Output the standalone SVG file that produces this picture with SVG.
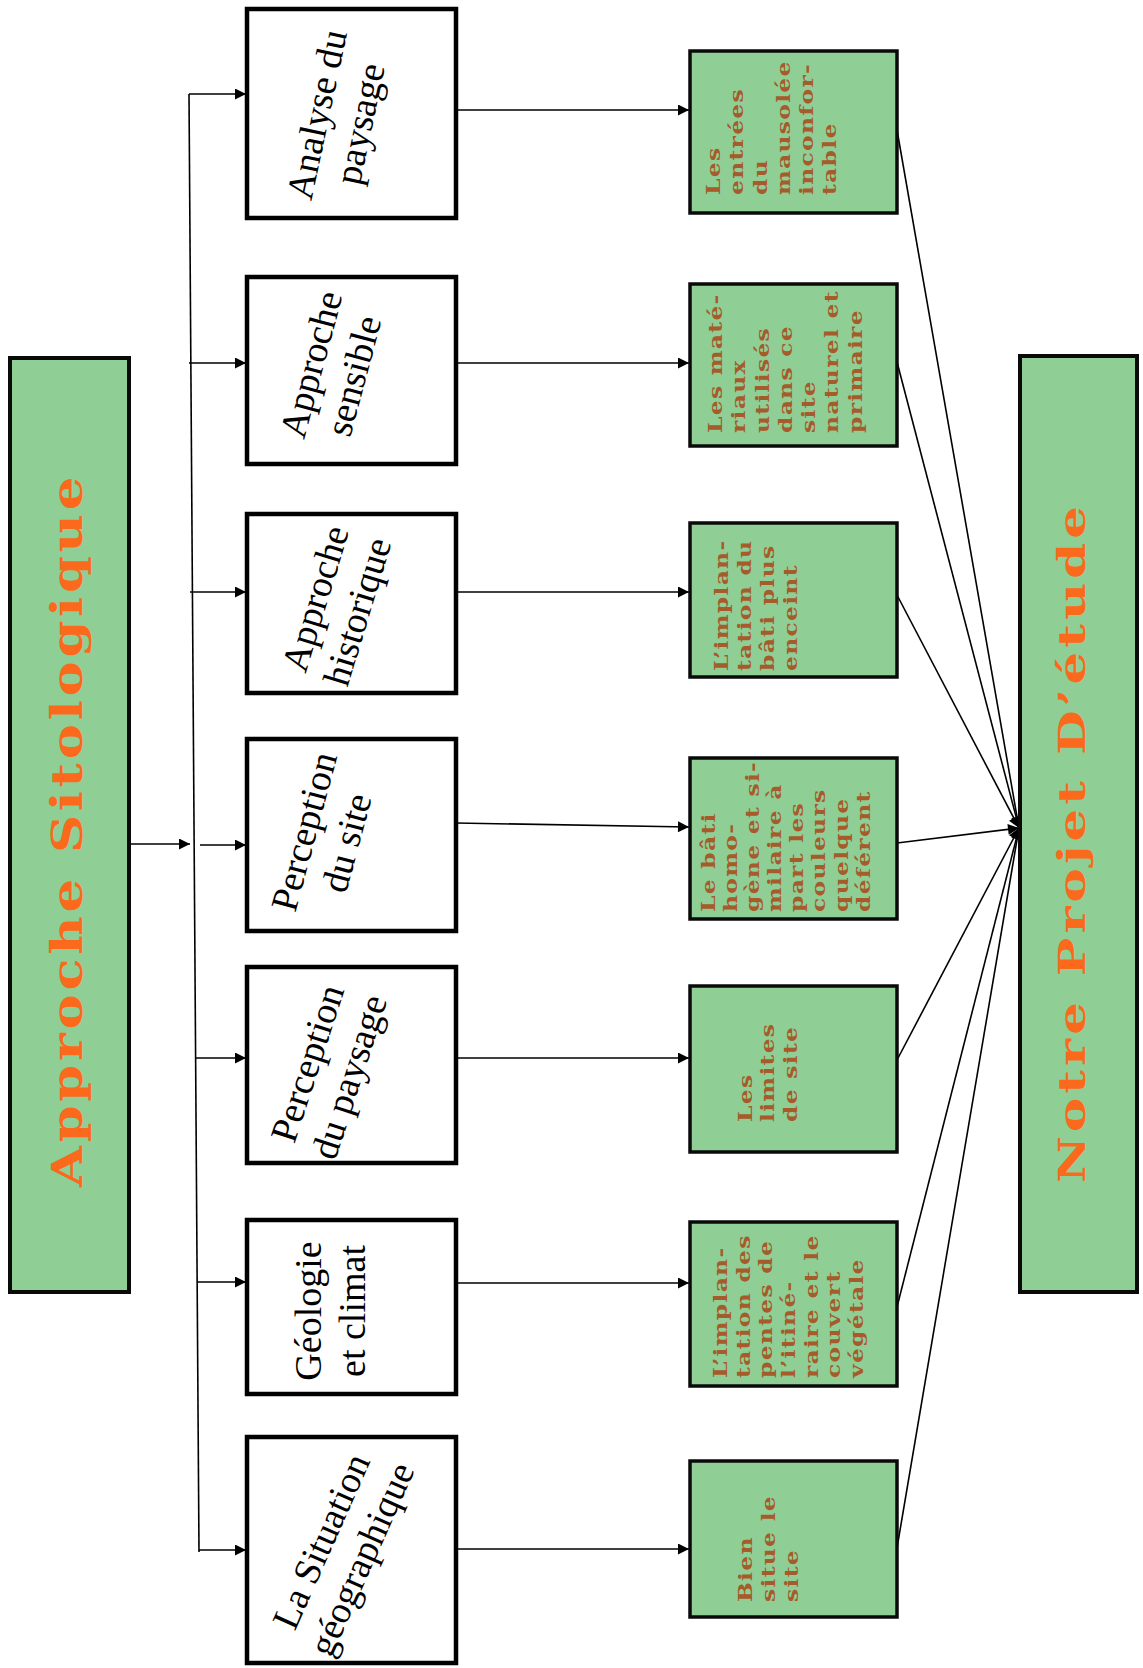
<svg xmlns="http://www.w3.org/2000/svg" width="1143" height="1668" viewBox="0 0 1143 1668">
<style>
.green{fill:#8fcf96;stroke:#0a0a0a;stroke-width:4}
.white{fill:#fff;stroke:#000;stroke-width:4.5}
.mid{fill:#8fcf96;stroke:#0a0a0a;stroke-width:3.5}
.title{font-family:"DejaVu Serif",serif;font-weight:bold;fill:#fb6a1c;letter-spacing:3px}
.lbl{font-family:"Liberation Serif",serif;font-size:38px;fill:#000}
.gt{font-family:"DejaVu Serif",serif;font-weight:bold;font-size:18px;letter-spacing:1px;fill:#a65b2b}
.c{stroke:#000;stroke-width:1.6;fill:none}
</style>
<defs>
<marker id="ah" viewBox="0 0 10 10" refX="10" refY="5" markerWidth="14" markerHeight="11" markerUnits="userSpaceOnUse" orient="auto"><path d="M0,0 L10,5 L0,10 z" fill="#000"/></marker>
</defs>
<rect width="1143" height="1668" fill="#fff"/>

<g id="connectors">
<line class="c" x1="189" y1="94" x2="199" y2="1552"/>
<line class="c" x1="129" y1="844" x2="190" y2="844" marker-end="url(#ah)"/>
<line class="c" x1="189" y1="94" x2="246" y2="94" marker-end="url(#ah)"/>
<line class="c" x1="189" y1="363" x2="246" y2="363" marker-end="url(#ah)"/>
<line class="c" x1="190" y1="592" x2="246" y2="592" marker-end="url(#ah)"/>
<line class="c" x1="200" y1="845" x2="246" y2="845" marker-end="url(#ah)"/>
<line class="c" x1="196" y1="1058" x2="246" y2="1058" marker-end="url(#ah)"/>
<line class="c" x1="197" y1="1282" x2="246" y2="1282" marker-end="url(#ah)"/>
<line class="c" x1="199" y1="1550" x2="246" y2="1550" marker-end="url(#ah)"/>
<line class="c" x1="456" y1="110" x2="689" y2="110" marker-end="url(#ah)"/>
<line class="c" x1="456" y1="363" x2="689" y2="363" marker-end="url(#ah)"/>
<line class="c" x1="456" y1="592" x2="689" y2="592" marker-end="url(#ah)"/>
<line class="c" x1="456" y1="823" x2="689" y2="827" marker-end="url(#ah)"/>
<line class="c" x1="456" y1="1058" x2="689" y2="1058" marker-end="url(#ah)"/>
<line class="c" x1="456" y1="1283" x2="689" y2="1283" marker-end="url(#ah)"/>
<line class="c" x1="456" y1="1549" x2="689" y2="1549" marker-end="url(#ah)"/>
<line class="c" x1="897" y1="130" x2="1019" y2="828" marker-end="url(#ah)"/>
<line class="c" x1="897" y1="362" x2="1019" y2="828" marker-end="url(#ah)"/>
<line class="c" x1="897" y1="595" x2="1019" y2="828" marker-end="url(#ah)"/>
<line class="c" x1="897" y1="843" x2="1019" y2="828" marker-end="url(#ah)"/>
<line class="c" x1="897" y1="1060" x2="1019" y2="828" marker-end="url(#ah)"/>
<line class="c" x1="897" y1="1307" x2="1019" y2="828" marker-end="url(#ah)"/>
<line class="c" x1="897" y1="1548" x2="1019" y2="828" marker-end="url(#ah)"/>
</g>

<g id="approche-sitologique">
<rect class="green" x="10" y="358" width="119" height="934"/>
<text class="title" font-size="42" transform="translate(82,1187) rotate(-90)" textLength="714" lengthAdjust="spacingAndGlyphs">Approche Sitologique</text>
</g>

<g id="notre-projet">
<rect class="green" x="1020" y="356" width="117" height="936"/>
<text class="title" font-size="38" transform="translate(1085,1183) rotate(-90)" textLength="681" lengthAdjust="spacingAndGlyphs">Notre Projet D’étude</text>
</g>

<g id="b1">
<rect class="white" x="247" y="9" width="209" height="209"/>
<text class="lbl" text-anchor="middle" transform="translate(338,119) rotate(-78)"><tspan x="0" y="-9">Analyse du</tspan><tspan x="0" y="35">paysage</tspan></text>
</g>
<g id="b2">
<rect class="white" x="247" y="277" width="209" height="187"/>
<text class="lbl" text-anchor="middle" transform="translate(332,370) rotate(-75)"><tspan x="0" y="-9">Approche</tspan><tspan x="0" y="35">sensible</tspan></text>
</g>
<g id="b3">
<rect class="white" x="247" y="514" width="209" height="179"/>
<text class="lbl" text-anchor="middle" transform="translate(336,605) rotate(-73)"><tspan x="0" y="-9">Approche</tspan><tspan x="0" y="35">historique</tspan></text>
</g>
<g id="b4">
<rect class="white" x="247" y="739" width="209" height="192"/>
<text class="lbl" text-anchor="middle" transform="translate(325,837) rotate(-75)"><tspan x="0" y="-9">Perception</tspan><tspan x="0" y="35">du site</tspan></text>
</g>
<g id="b5">
<rect class="white" x="247" y="967" width="209" height="196"/>
<text class="lbl" text-anchor="middle" transform="translate(328,1070) rotate(-72)"><tspan x="0" y="-9">Perception</tspan><tspan x="0" y="35">du paysage</tspan></text>
</g>
<g id="b6">
<rect class="white" x="247" y="1220" width="209" height="174"/>
<text class="lbl" text-anchor="middle" transform="translate(330,1311) rotate(-90)"><tspan x="0" y="-9">Géologie</tspan><tspan x="0" y="35">et climat</tspan></text>
</g>
<g id="b7">
<rect class="white" x="247" y="1437" width="209" height="226"/>
<text class="lbl" text-anchor="middle" transform="translate(341,1550) rotate(-66)"><tspan x="0" y="-9">La Situation</tspan><tspan x="0" y="35">géographique</tspan></text>
</g>

<g id="g1">
<rect class="mid" x="690" y="51" width="207" height="162"/>
<text class="gt" transform="translate(720,195) rotate(-90) scale(1.3,1)"><tspan x="0" y="0">Les</tspan><tspan x="0" y="23.3">entrées</tspan><tspan x="0" y="46.6">du</tspan><tspan x="0" y="69.9">mausolée</tspan><tspan x="0" y="93.2">inconfor-</tspan><tspan x="0" y="116.5">table</tspan></text>
</g>
<g id="g2">
<rect class="mid" x="690" y="284" width="207" height="162"/>
<text class="gt" transform="translate(722,433) rotate(-90) scale(1.3,1)"><tspan x="0" y="0">Les maté-</tspan><tspan x="0" y="23.3">riaux</tspan><tspan x="0" y="46.6">utilisés</tspan><tspan x="0" y="69.9">dans ce</tspan><tspan x="0" y="93.2">site</tspan><tspan x="0" y="116.5">naturel et</tspan><tspan x="0" y="139.8">primaire</tspan></text>
</g>
<g id="g3">
<rect class="mid" x="690" y="523" width="207" height="154"/>
<text class="gt" transform="translate(728,671) rotate(-90) scale(1.3,1)"><tspan x="0" y="0">L’implan-</tspan><tspan x="0" y="23">tation du</tspan><tspan x="0" y="46">bâti plus</tspan><tspan x="0" y="69">enceint</tspan></text>
</g>
<g id="g4">
<rect class="mid" x="690" y="758" width="207" height="161"/>
<text class="gt" transform="translate(715,912) rotate(-90) scale(1.3,1)"><tspan x="0" y="0">Le bâti</tspan><tspan x="0" y="22.1">homo-</tspan><tspan x="0" y="44.2">gène et si-</tspan><tspan x="0" y="66.3">milaire à</tspan><tspan x="0" y="88.4">part les</tspan><tspan x="0" y="110.5">couleurs</tspan><tspan x="0" y="132.6">quelque</tspan><tspan x="0" y="154.7">déférent</tspan></text>
</g>
<g id="g5">
<rect class="mid" x="690" y="986" width="207" height="166"/>
<text class="gt" transform="translate(752,1122) rotate(-90) scale(1.3,1)"><tspan x="0" y="0">Les</tspan><tspan x="0" y="22.5">limites</tspan><tspan x="0" y="45">de site</tspan></text>
</g>
<g id="g6">
<rect class="mid" x="690" y="1222" width="207" height="164"/>
<text class="gt" transform="translate(727,1378) rotate(-90) scale(1.3,1)"><tspan x="0" y="0">L’implan-</tspan><tspan x="0" y="22.7">tation des</tspan><tspan x="0" y="45.4">pentes de</tspan><tspan x="0" y="68.1">l’itiné-</tspan><tspan x="0" y="90.8">raire et le</tspan><tspan x="0" y="113.5">couvert</tspan><tspan x="0" y="136.2">végétale</tspan></text>
</g>
<g id="g7">
<rect class="mid" x="690" y="1461" width="207" height="156"/>
<text class="gt" transform="translate(752,1602) rotate(-90) scale(1.3,1)"><tspan x="0" y="0">Bien</tspan><tspan x="0" y="23">situe le</tspan><tspan x="0" y="46">site</tspan></text>
</g>
</svg>
